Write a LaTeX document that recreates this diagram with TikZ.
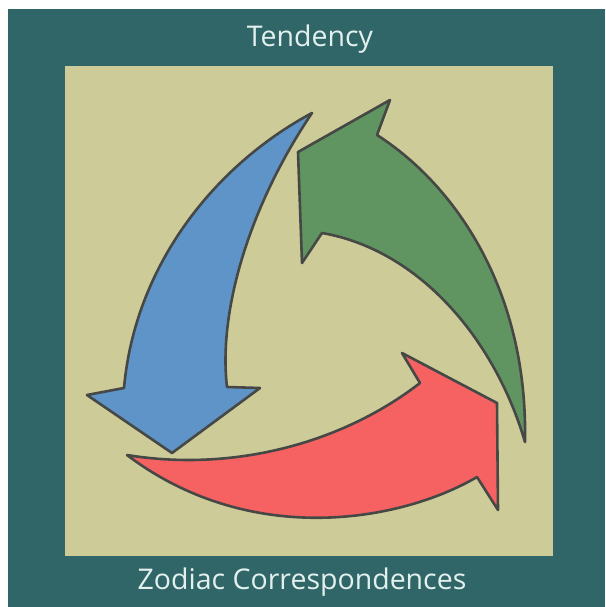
\documentclass[tikz,border=0pt]{standalone}
\usepackage{fontspec}
\setmainfont{Open Sans}
\definecolor{frameteal}{RGB}{48,102,104}
\definecolor{panelbeige}{RGB}{205,203,152}
\definecolor{arrowblue}{RGB}{94,148,200}
\definecolor{arrowgreen}{RGB}{96,148,96}
\definecolor{arrowred}{RGB}{246,98,98}
\definecolor{edgegray}{RGB}{70,72,70}
\definecolor{labelwhite}{RGB}{226,240,238}
\tikzset{
  bigarrow/.style={draw=edgegray, line width=2.6pt, line join=round},
  caption/.style={text=labelwhite, font=\fontsize{28.5}{32}\selectfont, inner sep=0pt}
}
\begin{document}
\begin{tikzpicture}[x=1pt,y=-1pt]
    % Frame
    \useasboundingbox (0,0) rectangle (605,607);
    \fill[white] (0,0) rectangle (605,607);
    \fill[frameteal] (8,9) rectangle (605,607);
    \fill[panelbeige] (65,66) rectangle (553,556);

    % Blue arrow
    \filldraw[bigarrow, fill=arrowblue] (312,113)
        .. controls (215,165) and (135,265) .. (124,388)
        -- (87,395) -- (172,453) -- (260,388) -- (227,387)
        .. controls (218,310) and (250,205) .. (312,113)
        -- cycle;

    % Green arrow
    \filldraw[bigarrow, fill=arrowgreen] (390,100) -- (377,135)
        .. controls (455,185) and (528,290) .. (525,442)
        .. controls (495,340) and (420,250) .. (322,233)
        -- (302,263) -- (298,152) -- cycle;

    % Red arrow
    \filldraw[bigarrow, fill=arrowred] (127,455)
        .. controls (230,472) and (340,445) .. (420,383)
        -- (402,353) -- (497,403) -- (498,510) -- (477,477)
        .. controls (400,522) and (250,548) .. (127,455)
        -- cycle;

    % Labels
    \node[caption] (tendency) at (310,39) {Tendency};
    \node[caption] (zodiac) at (302,582) {Zodiac Correspondences};
\end{tikzpicture}
\end{document}
